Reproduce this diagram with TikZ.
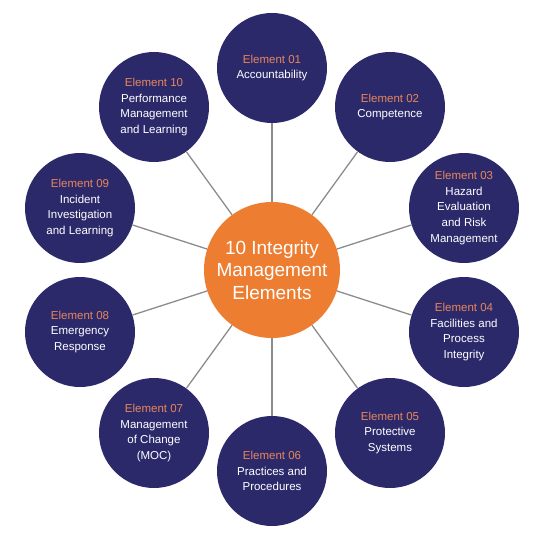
\documentclass[tikz,border=0pt]{standalone}
\usepackage{fontspec}
\setmainfont{Liberation Sans}
\usepackage{xcolor}
\definecolor{navy}{RGB}{44,41,107}
\definecolor{huborange}{RGB}{237,125,49}
\definecolor{tagorange}{RGB}{232,135,90}
\definecolor{spoke}{RGB}{140,140,140}
\newcommand{\tag}[1]{{\color{tagorange}#1}}

\begin{document}
\begin{tikzpicture}[x=1pt, y=-1pt,
    element/.style={circle,fill=navy,text=white,inner sep=0,minimum size=110pt,align=center,font=\fontsize{11.5}{15.8}\selectfont},
    hub/.style={circle,fill=huborange,text=white,inner sep=0,minimum size=136pt,align=center,font=\fontsize{19}{22.5}\selectfont},
    link/.style={draw=spoke,line width=1.3pt}]
        \useasboundingbox (0,0) rectangle (540,540);
        \node at (272,270) [hub] (center) {10 Integrity\\Management\\Elements};
        \node at (272,68) [element] (el01) {\tag{Element 01}\\Accountability};
        \node at (390,107) [element] (el02) {\tag{Element 02}\\Competence};
        \node at (464,208) [element] (el03) {\tag{Element 03}\\Hazard\\Evaluation\\and Risk\\Management};
        \node at (464,332) [element] (el04) {\tag{Element 04}\\Facilities and\\Process\\Integrity};
        \node at (390,433) [element] (el05) {\tag{Element 05}\\Protective\\Systems};
        \node at (272,471) [element] (el06) {\tag{Element 06}\\Practices and\\Procedures};
        \node at (154,433) [element] (el07) {\tag{Element 07}\\Management\\of Change\\(MOC)};
        \node at (80,332) [element] (el08) {\tag{Element 08}\\Emergency\\Response};
        \node at (80,208) [element] (el09) {\tag{Element 09}\\Incident\\Investigation\\and Learning};
        \node at (154,107) [element] (el10) {\tag{Element 10}\\Performance\\Management\\and Learning};
        \draw[link] (center) -- (el01);
        \draw[link] (center) -- (el02);
        \draw[link] (center) -- (el03);
        \draw[link] (center) -- (el04);
        \draw[link] (center) -- (el05);
        \draw[link] (center) -- (el06);
        \draw[link] (center) -- (el07);
        \draw[link] (center) -- (el08);
        \draw[link] (center) -- (el09);
        \draw[link] (center) -- (el10);
    \end{tikzpicture}
\end{document}
